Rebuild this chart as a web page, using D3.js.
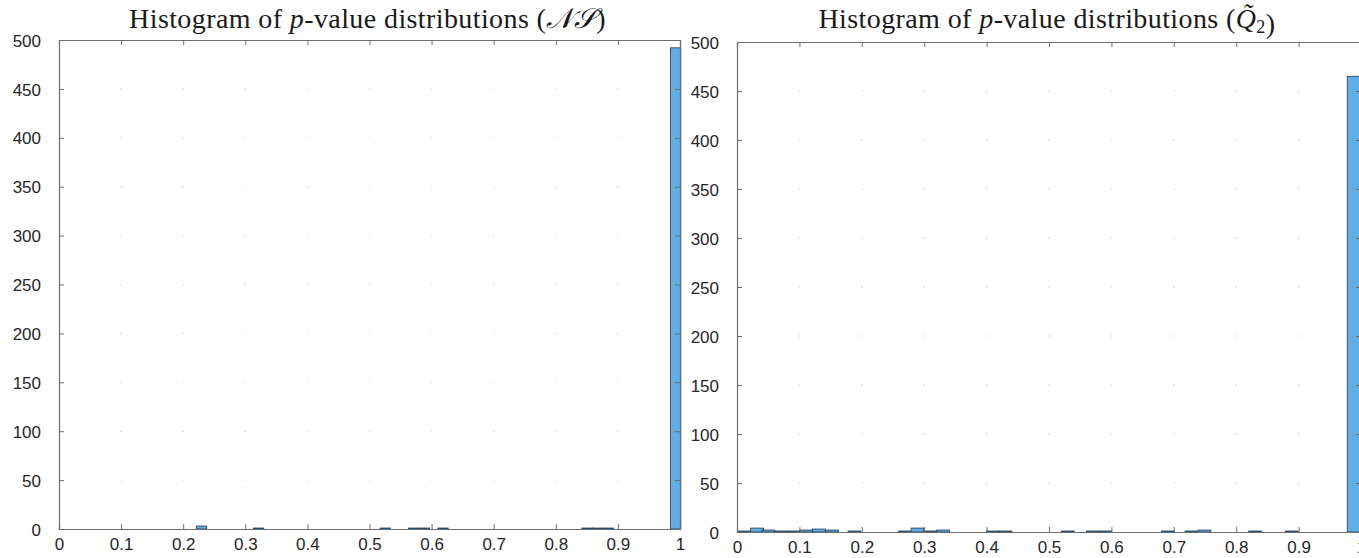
<!DOCTYPE html>
<html>
<head>
<meta charset="utf-8">
<style>
  body { margin: 0; background: #fff; }
  svg { display: block; }
  .tick text { font-family: "Liberation Sans", Arial, sans-serif; font-size: 17px; fill: #262626; }
  .title { font-family: "Liberation Serif", "DejaVu Serif", serif; font-size: 28px; letter-spacing: 0.4px; fill: #1a1a1a; }
</style>
</head>
<body>
<div class="chart"></div>
<script src="https://cdn.jsdelivr.net/npm/d3@7/dist/d3.min.js"></script>
<script>
  // x ticks and y ticks (shared by both panels)
  const xTicks = [0, 0.1, 0.2, 0.3, 0.4, 0.5, 0.6, 0.7, 0.8, 0.9, 1]
  const yTicks = [0, 50, 100, 150, 200, 250, 300, 350, 400, 450, 500]

  // left panel (NS): bin start and counts
  const nsBinWidth = 0.0168
  const nsStarts = [0.221, 0.313, 0.517, 0.563, 0.580, 0.610, 0.842, 0.859, 0.876, 0.9845]
  const nsCounts = [3, 1, 1, 1, 1, 1, 1, 1, 1, 492]

  // right panel (Q2): bin start and counts
  const q2BinWidth = 0.0205
  const q2Starts = [0.001, 0.022, 0.040, 0.060, 0.080, 0.101, 0.121, 0.142, 0.178,
                    0.259, 0.279, 0.300, 0.320, 0.400, 0.420, 0.520, 0.560, 0.580,
                    0.680, 0.718, 0.739, 0.820, 0.879, 0.978]
  const q2Counts = [1, 4, 2, 1, 1, 2, 3, 2, 1,
                    1, 4, 1, 2, 1, 1, 1, 1, 1,
                    1, 1, 2, 1, 1, 465]

  const svg = d3.select('.chart').append('svg')
                .attr('width', 1359)
                .attr('height', 558)

  function panel(opt) {
    const x = d3.scaleLinear().domain([0, 1]).range([opt.left, opt.right])
    const y = d3.scaleLinear().domain([0, 500]).range([opt.bottom, opt.top])
    const g = svg.append('g')

    // faint grid dots
    const grid = []
    xTicks.slice(1, -1).forEach(a => yTicks.slice(1, -1).forEach(b => grid.push([a, b])))
    g.append('g').selectAll('circle').data(grid).join('circle')
      .attr('cx', d => x(d[0])).attr('cy', d => y(d[1]))
      .attr('r', 0.9).attr('fill', '#e4e4e4')

    // bars
    const bins = opt.starts.map((s, i) => ({s: s, c: opt.counts[i]}))
    g.append('g').selectAll('rect').data(bins).join('rect')
      .attr('x', d => x(d.s))
      .attr('y', d => y(d.c))
      .attr('width', d => x(d.s + opt.bw) - x(d.s))
      .attr('height', d => y(0) - y(d.c))
      .attr('fill', '#62aee3')
      .attr('stroke', '#1f3a52')
      .attr('stroke-width', 0.8)

    // axes
    const xb = g.append('g').attr('transform', `translate(0,${opt.bottom})`)
      .call(d3.axisBottom(x).tickValues(xTicks).tickSize(-5).tickPadding(9).tickFormat(d3.format('')))
    const xt = g.append('g').attr('transform', `translate(0,${opt.top})`)
      .call(d3.axisTop(x).tickValues(xTicks).tickSize(-5).tickFormat(''))
    const yl = g.append('g').attr('transform', `translate(${opt.left},0)`)
      .call(d3.axisLeft(y).tickValues(yTicks).tickSize(-5).tickPadding(18))
    const yr = g.append('g').attr('transform', `translate(${opt.right},0)`)
      .call(d3.axisRight(y).tickValues(yTicks).tickSize(-5).tickFormat(''))
    ;[xb, xt, yl, yr].forEach(a => {
      a.selectAll('.domain').attr('stroke', '#6e6e6e').attr('stroke-width', 1.2)
      a.selectAll('.tick line').attr('stroke', '#6e6e6e')
    })
    yl.selectAll('.tick text').attr('dy', '0.36em')

    // title
    const t = svg.append('text').attr('class', 'title')
      .attr('x', (opt.left + opt.right) / 2 - 2).attr('y', 28)
      .attr('text-anchor', 'middle')
    t.append('tspan').text('Histogram of ')
    t.append('tspan').attr('font-style', 'italic').text('p')
    t.append('tspan').text('-value distributions (')
    opt.sym(t)
    t.append('tspan').text(')')
  }

  panel({
    left: 59, right: 680, top: 40, bottom: 529,
    starts: nsStarts, counts: nsCounts, bw: nsBinWidth,
    sym: t => t.append('tspan').attr('font-style', 'italic').text('𝒩𝒮')
  })

  panel({
    left: 737, right: 1361, top: 42, bottom: 532,
    starts: q2Starts, counts: q2Counts, bw: q2BinWidth,
    sym: t => {
      t.append('tspan').attr('font-style', 'italic').text('Q\u0303')
      t.append('tspan').attr('font-size', '18px').attr('dy', 5).text('2')
      t.append('tspan').attr('dy', -5).text('')
    }
  })
</script>
</body>
</html>
